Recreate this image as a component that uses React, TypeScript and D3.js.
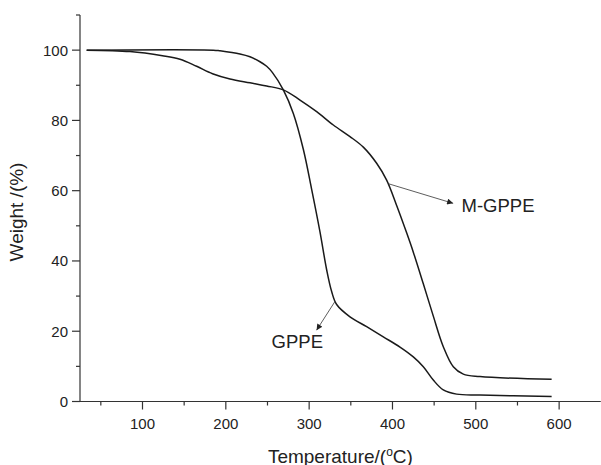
import React from "react";
import * as d3 from "d3";

// Data (temperature in °C, weight in %)
const gppeT = [33, 185, 193, 217, 229, 241, 249, 256, 269, 281, 293, 303, 313, 321, 327, 333, 349, 369, 389, 409, 425, 437, 449, 461, 477, 505, 591];
const gppeW = [100, 100, 99.8, 98.9, 98.1, 96.7, 95.4, 93.6, 88.7, 82.0, 71.8, 60.4, 48.3, 37.5, 31.3, 27.6, 24.1, 21.3, 18.4, 15.5, 12.7, 9.9, 6.1, 3.3, 2.1, 1.85, 1.4];

const mgppeT = [33, 85, 124, 145, 165, 184, 205, 229, 249, 269, 289, 309, 329, 349, 365, 381, 393, 405, 417, 425, 437, 449, 461, 473, 485, 505, 591];
const mgppeW = [100, 99.6, 98.4, 97.4, 95.4, 93.3, 91.8, 90.7, 89.8, 88.7, 85.8, 82.5, 78.7, 75.4, 72.4, 67.8, 63.0, 55.8, 48.0, 42.5, 33.5, 24.3, 15.6, 9.9, 7.8, 7.1, 6.3];

const xMajorTicks = [100, 200, 300, 400, 500, 600];
const xMinorTicks = [50, 150, 250, 350, 450, 550];
const yMajorTicks = [0, 20, 40, 60, 80, 100];
const yMinorTicks = [10, 30, 50, 70, 90, 110];

// Annotations (data coordinates)
const annotLabels = ["M-GPPE", "GPPE"];
const annotFromT = [394.8, 330.8];
const annotFromW = [62.0, 28.4];
const annotToT = [472.8, 308.9];
const annotToW = [56.4, 20.3];
const annotLabelT = [482.9, 254.9];
const annotLabelW = [55.9, 17.0];

const W = 601;
const H = 465;
const FONT = "'Liberation Sans', Arial, Helvetica, sans-serif";

export default function App() {
  const x = d3.scaleLinear().domain([25, 650]).range([80, 600.8]);
  const y = d3.scaleLinear().domain([0, 110]).range([401.5, 15]);

  const line = d3
    .line<[number, number]>()
    .x((d) => x(d[0]))
    .y((d) => y(d[1]))
    .curve(d3.curveCatmullRom.alpha(0.5));

  const gppe = gppeT.map((t, i) => [t, gppeW[i]] as [number, number]);
  const mgppe = mgppeT.map((t, i) => [t, mgppeW[i]] as [number, number]);

  const axisColor = "#333";
  const textColor = "#222";
  const x0 = x(25);
  const y0 = y(0);

  return (
    <svg
      width={W}
      height={H}
      viewBox={`0 0 ${W} ${H}`}
      style={{ position: "absolute", left: 0, top: 0, background: "#fff" }}
    >
      <defs>
        <marker
          id="arrow"
          viewBox="0 0 10 10"
          refX="10"
          refY="5"
          markerWidth="9"
          markerHeight="6"
          markerUnits="userSpaceOnUse"
          orient="auto"
        >
          <path d="M0,0 L10,5 L0,10 z" fill="#222" />
        </marker>
      </defs>
      <rect x={0} y={0} width={W} height={H} fill="#fff" />

      {/* curves */}
      <path d={line(gppe) || ""} fill="none" stroke="#1a1a1a" strokeWidth={1.5} />
      <path d={line(mgppe) || ""} fill="none" stroke="#1a1a1a" strokeWidth={1.5} />

      {/* axes */}
      <line x1={x0} y1={y(110)} x2={x0} y2={y0} stroke={axisColor} strokeWidth={1.2} />
      <line x1={x0} y1={y0} x2={x(650)} y2={y0} stroke={axisColor} strokeWidth={1.2} />

      {yMajorTicks.map((v) => (
        <g key={"ym" + v}>
          <line x1={x0 - 8} x2={x0} y1={y(v)} y2={y(v)} stroke={axisColor} strokeWidth={1.2} />
          <text
            x={x0 - 12}
            y={y(v)}
            dy="0.36em"
            textAnchor="end"
            fontFamily={FONT}
            fontSize={15}
            fill={textColor}
          >
            {v}
          </text>
        </g>
      ))}
      {yMinorTicks.map((v) => (
        <line key={"yn" + v} x1={x0 - 4} x2={x0} y1={y(v)} y2={y(v)} stroke={axisColor} strokeWidth={1.2} />
      ))}

      {xMajorTicks.map((v) => (
        <g key={"xm" + v}>
          <line x1={x(v)} x2={x(v)} y1={y0} y2={y0 + 8} stroke={axisColor} strokeWidth={1.2} />
          <text
            x={x(v)}
            y={y0 + 27}
            textAnchor="middle"
            fontFamily={FONT}
            fontSize={15}
            fill={textColor}
          >
            {v}
          </text>
        </g>
      ))}
      {xMinorTicks.map((v) => (
        <line key={"xn" + v} x1={x(v)} x2={x(v)} y1={y0} y2={y0 + 4} stroke={axisColor} strokeWidth={1.2} />
      ))}

      {/* axis titles */}
      <text
        transform={`translate(22.5, 212) rotate(-90)`}
        textAnchor="middle"
        fontFamily={FONT}
        fontSize={19}
        fill={textColor}
      >
        Weight /(%)
      </text>
      <text
        x={(x0 + x(650)) / 2}
        y={462.5}
        textAnchor="middle"
        fontFamily={FONT}
        fontSize={19}
        fill={textColor}
      >
        Temperature/(
        <tspan fontSize={12} dy={-7}>o</tspan>
        <tspan dy={7}>C)</tspan>
      </text>

      {/* annotations */}
      {annotLabels.map((lab, i) => (
        <g key={lab}>
          <line
            x1={x(annotFromT[i])}
            y1={y(annotFromW[i])}
            x2={x(annotToT[i])}
            y2={y(annotToW[i])}
            stroke="#333"
            strokeWidth={0.8}
            markerEnd="url(#arrow)"
          />
          <text
            x={x(annotLabelT[i])}
            y={y(annotLabelW[i])}
            dy="0.36em"
            fontFamily={FONT}
            fontSize={18.5}
            fill={textColor}
          >
            {lab}
          </text>
        </g>
      ))}
    </svg>
  );
}
